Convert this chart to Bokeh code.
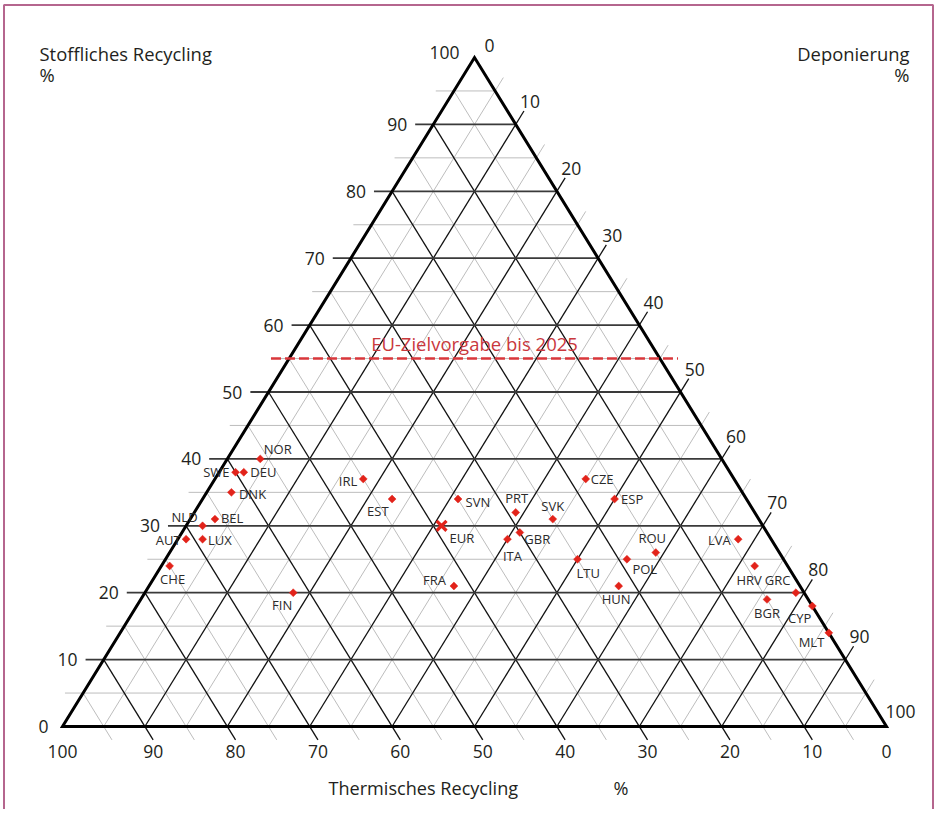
import math
from bokeh.plotting import figure
from bokeh.models import Range1d
from bokeh.core.properties import value
from bokeh.embed import file_html
from bokeh.resources import INLINE

# ---------------- data ----------------
countries = ["NOR", "SWE", "DEU", "DNK", "NLD", "BEL", "AUT", "LUX", "CHE", "FIN",
             "IRL", "EST", "SVN", "PRT", "SVK", "CZE", "ESP", "GBR", "ITA", "FRA",
             "LTU", "HUN", "POL", "ROU", "LVA", "HRV", "BGR", "GRC", "CYP", "MLT"]
stoffliches_recycling = [40, 38, 38, 35, 30, 31, 28, 28, 24, 20,
                         37, 34, 34, 32, 31, 37, 34, 29, 28, 21,
                         25, 21, 25, 26, 28, 24, 19, 20, 18, 14]
thermisches_recycling = [56, 60, 59, 62, 68, 66, 71, 69, 75, 62,
                         45, 43, 35, 29, 25, 18, 16, 30, 32, 42,
                         25, 22, 19, 15, 4, 4, 5, 1, 0, 0]
deponierung = [4, 2, 3, 3, 2, 3, 1, 3, 1, 18,
               18, 23, 31, 39, 44, 45, 50, 41, 40, 37,
               50, 57, 56, 59, 68, 72, 76, 79, 82, 86]
eur_name = "EUR"
eur_stofflich, eur_thermisch, eur_deponierung = 30, 39, 31
eu_target_2025 = 55
eu_target_label = "EU-Zielvorgabe bis 2025"
major_ticks = [0, 10, 20, 30, 40, 50, 60, 70, 80, 90, 100]
minor_ticks = [5, 15, 25, 35, 45, 55, 65, 75, 85, 95]

# ---------------- label placement (style only) ----------------
# (align, dx px, dy px) relative to the point, dy positive = down
label_place = {
    "NOR": ("left", 3.5, -10), "SWE": ("right", -6, 0), "DEU": ("left", 6.5, 0),
    "DNK": ("left", 7.5, 2), "NLD": ("right", -5, -9), "BEL": ("left", 6, -1),
    "AUT": ("right", -5.5, 1), "LUX": ("left", 5.5, 1), "CHE": ("center", 3, 13),
    "FIN": ("right", -1, 12.5), "IRL": ("right", -6, 2), "EST": ("right", -3.5, 11.5),
    "SVN": ("left", 7.5, 2.5), "PRT": ("center", 1, -14.5), "SVK": ("center", 0, -13.5),
    "CZE": ("left", 5, 0), "ESP": ("left", 6.5, 0), "GBR": ("left", 4.5, 6.5),
    "ITA": ("center", 5, 17), "FRA": ("right", -8, -6), "LTU": ("left", -1, 14),
    "HUN": ("center", -2.5, 12.5), "POL": ("left", 5.5, 10), "ROU": ("center", -3.5, -14.5),
    "LVA": ("right", -7.5, 1), "HRV": ("center", -5.5, 14.5), "BGR": ("center", 0, 14),
    "GRC": ("right", -5.5, -13), "CYP": ("right", -1, 12), "MLT": ("right", -4.5, 9),
}

# ---------------- geometry ----------------
W, H = 934, 809
OX, OY = 0, 0
BLX, BLY, TW, TH = 62.0, 726.0, 824.0, 669.0
UX, UY = TW / 100.0, TH / 100.0
EXT = 2.0     # tick extension for T and D lines (percent units)
EXT_S = 2.2   # tick extension for S lines


def px2x(px):
    return (px - BLX) / UX


def py2y(py):
    return (BLY - py) / UY


def tern(s, d):
    return s / 2.0 + d, s


FONT = value("Open Sans")
TXT = "#231f20"
RED = "#e2231a"

p = figure(width=W, height=H,
           x_range=Range1d(px2x(OX), px2x(OX + W)),
           y_range=Range1d(py2y(OY + H), py2y(OY)),
           x_axis_type=None, y_axis_type=None,
           toolbar_location=None, output_backend="svg",
           min_border=0, outline_line_color=None)
p.background_fill_color = "white"
p.border_fill_color = "white"

# frame
fx0, fx1, fy0, fy1 = px2x(3.5), px2x(W - 1.5), py2y(4.5), py2y(H + 10)
p.line([fx0, fx0, fx1, fx1], [fy1, fy0, fy0, fy1], line_color="#b5668e", line_width=2)


def grid_lines(vals):
    hx, hy, dx, dy = [], [], [], []
    for v in vals:
        # constant Stoffliches Recycling (horizontal), extends to the left
        hx.append([v / 2.0 - EXT_S, v / 2.0 + 100 - v]); hy.append([v, v])
        # constant Deponierung, extends beyond the right edge
        s1 = 100 - v + EXT
        dx.append([v, s1 / 2.0 + v]); dy.append([0, s1])
        # constant Thermisches Recycling, extends below the bottom edge
        dx.append([(100 - v) / 2.0, 100 - v + EXT / 2.0]); dy.append([100 - v, -EXT])
    return hx, hy, dx, dy


mhx, mhy, mdx, mdy = grid_lines(minor_ticks)
p.multi_line(mhx + mdx, mhy + mdy, line_color="#bdbdbd", line_width=1)
inner = [v for v in major_ticks if 0 < v < 100]
Mhx, Mhy, Mdx, Mdy = grid_lines(inner)
p.multi_line(Mdx, Mdy, line_color="#111111", line_width=1.3)
p.multi_line(Mhx, Mhy, line_color="#3a3a3a", line_width=1.8)

# triangle outline
p.line([0, 100, 50, 0, 100], [0, 0, 100, 0, 0], line_color="black", line_width=3,
       line_join="miter")

# EU target line
p.line([eu_target_2025 / 2.0 - EXT_S, eu_target_2025 / 2.0 + 100 - eu_target_2025 + EXT_S],
       [eu_target_2025, eu_target_2025], line_color="#d9373b", line_width=2.5,
       line_dash="10 4")
p.text([50], [eu_target_2025 + 15 / UY], text=[eu_target_label], text_color="#c9383d",
       text_font=FONT, text_font_size="18.5px", text_align="center", text_baseline="middle")

TICK_FS = "17.5px"
# ---- tick labels ----
# Stoffliches Recycling (left)
sx, sy, st = [], [], []
for v in major_ticks:
    if v == 0:
        x, y = 0 - 14 / UX, 0
    elif v == 100:
        x, y = 50 - 15 / UX, 100 + 5 / UY
    else:
        x, y = v / 2.0 - EXT_S - 8 / UX, v
    sx.append(x); sy.append(y); st.append(str(v))
p.text(sx, sy, text=st, text_font=FONT, text_font_size=TICK_FS, text_color=TXT,
       text_align="right", text_baseline="middle")

# Thermisches Recycling (bottom)
tx, ty, tt = [], [], []
for v in major_ticks:
    if v in (0, 100):
        x = 100 - v
    else:
        x = 100 - v + EXT / 2.0
    tx.append(x); ty.append(-25 / UY); tt.append(str(v))
p.text(tx, ty, text=tt, text_font=FONT, text_font_size=TICK_FS, text_color=TXT,
       text_align="center", text_baseline="middle")

# Deponierung (right)
dxl, dyl, dtl = [], [], []
for v in major_ticks:
    if v == 0:
        x, y = 50 + 10 / UX, 100 + 12 / UY
    elif v == 100:
        x, y = 100 - 1 / UX, 15 / UY
    else:
        s1 = 100 - v + EXT
        x, y = s1 / 2.0 + v - 4 / UX, s1 + 9.5 / UY
    dxl.append(x); dyl.append(y); dtl.append(str(v))
p.text(dxl, dyl, text=dtl, text_font=FONT, text_font_size=TICK_FS, text_color=TXT,
       text_align="left", text_baseline="middle")

# axis titles
TITLE_FS = "18.4px"
p.text([px2x(39), px2x(39)], [py2y(52.5), py2y(74)], text=["Stoffliches Recycling", "%"],
       text_font=FONT, text_font_size=TITLE_FS, text_color=TXT, text_align="left",
       text_baseline="middle")
p.text([px2x(909), px2x(909)], [py2y(52.5), py2y(74)], text=["Deponierung", "%"],
       text_font=FONT, text_font_size=TITLE_FS, text_color=TXT, text_align="right",
       text_baseline="middle")
p.text([px2x(328), px2x(613)], [py2y(787.5), py2y(787.5)], text=["Thermisches Recycling", "%"],
       text_font=FONT, text_font_size="18.1px", text_color=TXT, text_align="left",
       text_baseline="middle")

# ---- data points ----
px_, py_ = [], []
for s, d in zip(stoffliches_recycling, deponierung):
    x, y = tern(s, d)
    px_.append(x); py_.append(y)
p.scatter(px_, py_, marker="square", size=5.6, angle=45, angle_units="deg",
          fill_color=RED, line_color=RED, line_width=0.5)

ex, ey = tern(eur_stofflich, eur_deponierung)
p.scatter([ex], [ey], marker="x", size=14, line_color=RED, line_width=3.2)

# country labels
groups = {"left": ([], [], []), "right": ([], [], []), "center": ([], [], [])}
for name, x, y in zip(countries + [eur_name], px_ + [ex], py_ + [ey]):
    if name == eur_name:
        al, ddx, ddy = "left", 8, 12
    else:
        al, ddx, ddy = label_place[name]
    g = groups[al]
    g[0].append(x + ddx / UX); g[1].append(y - ddy / UY); g[2].append(name)
for al, (gx, gy, gt) in groups.items():
    p.text(gx, gy, text=gt, text_font=FONT, text_font_size="13px", text_color="#2b2b2b",
           text_align=al, text_baseline="middle")

open("out.html", "w").write(file_html(p, INLINE, title="Ternary plot"))
